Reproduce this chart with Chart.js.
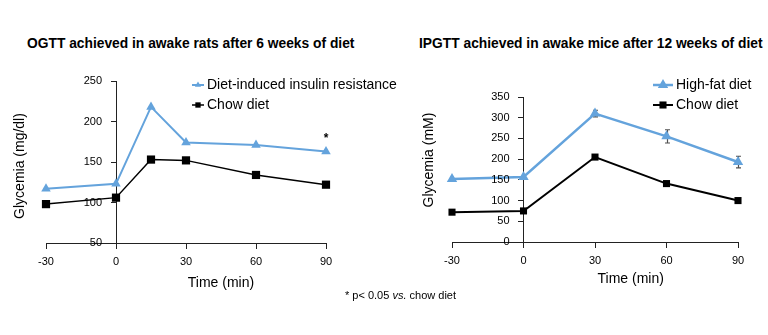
<!DOCTYPE html>
<html>
<head>
<meta charset="utf-8">
<title>Glucose tolerance tests</title>
<script src="https://cdn.jsdelivr.net/npm/chart.js@4/dist/chart.umd.min.js"></script>
<style>
  body { margin: 0; width: 768px; height: 335px; overflow: hidden; position: relative; background: #fff;
         font-family: "Liberation Sans", Arial, Helvetica, sans-serif; color: #000; }
  canvas { position: absolute; top: 0; }
  #ogtt { left: 0; }
  #ipgtt { left: 384px; }
  .ttl { position: absolute; top: 36px; font-size: 13.8px; font-weight: bold; white-space: nowrap; }
  .note { position: absolute; left: 345px; top: 289px; font-size: 11px; white-space: nowrap; }
</style>
</head>
<body>
<div class="ttl" style="left:27px">OGTT achieved in awake rats after 6 weeks of diet</div>
<div class="ttl" style="left:419px">IPGTT achieved in awake mice after 12 weeks of diet</div>
<canvas id="ogtt" width="410" height="335"></canvas>
<canvas id="ipgtt" width="384" height="335"></canvas>
<div class="note">* p&lt; 0.05 <i>vs.</i> chow diet</div>
<script>
'use strict'

// OGTT, rats (mg/dl)
const ogttTimes = [-30, 0, 15, 30, 60, 90]
const ogttResistant = [117, 123, 218, 174, 171, 163]
const ogttChow = [98, 106, 153, 152, 134, 122]
const ogttTicks = [50, 250, 50]     // min, max, step

// IPGTT, mice (mM)
const ipgttTimes = [-30, 0, 30, 60, 90]
const ipgttHighFat = [152, 157, 310, 255, 193]
const ipgttHighFatErr = [0, 0, 8, 16, 14]
const ipgttChow = [72, 75, 205, 141, 100]
const ipgttTicks = [0, 350, 50]

const timeTicks = [-30, 90, 30]

const BLUE = '#64a3dc'
const FONT = '"Liberation Sans", Arial, Helvetica, sans-serif'

const pts = (xs, ys) => xs.map((x, i) => ({x: x, y: ys[i]}))

// axis titles, y labels, legend, error bars and star, placed with the chart's own scales
const extras = {
  id: 'extras',
  beforeDatasetsDraw(chart, args, opts) {
    if (!opts.errors) return
    const {ctx} = chart
    const xs = chart.scales.x, ys = chart.scales.y
    const data = chart.data.datasets[opts.errors.dataset].data
    ctx.save()
    ctx.strokeStyle = '#505050'
    ctx.lineWidth = 1.2
    opts.errors.values.forEach((e, i) => {
      if (!e) return
      const x = Math.round(xs.getPixelForValue(data[i].x)) + 0.5
      const t = ys.getPixelForValue(data[i].y + e)
      const b = ys.getPixelForValue(data[i].y - e)
      ctx.beginPath()
      ctx.moveTo(x, t); ctx.lineTo(x, b)
      ctx.moveTo(x - 2.5, t); ctx.lineTo(x + 2.5, t)
      ctx.moveTo(x - 2.5, b); ctx.lineTo(x + 2.5, b)
      ctx.stroke()
    })
    ctx.restore()
  },
  afterDraw(chart, args, opts) {
    const {ctx} = chart
    const xs = chart.scales.x, ys = chart.scales.y
    ctx.save()
    ctx.fillStyle = '#000'

    // y tick labels, left of the axis that crosses at t = 0
    ctx.font = '11px ' + FONT
    ctx.textAlign = 'right'
    ctx.textBaseline = 'middle'
    const ax = xs.getPixelForValue(0)
    ys.ticks.forEach(t => ctx.fillText(String(t.value), ax - 14, ys.getPixelForValue(t.value)))

    ctx.font = '14px ' + FONT
    // y title
    ctx.save()
    ctx.translate(opts.yTitleX, opts.yTitleY)
    ctx.rotate(-Math.PI / 2)
    ctx.textAlign = 'center'
    ctx.fillText(opts.yTitle, 0, 0)
    ctx.restore()

    // x title, centred over 0..90 min
    ctx.textAlign = 'center'
    const cx = (xs.getPixelForValue(0) + xs.getPixelForValue(timeTicks[1])) / 2
    ctx.fillText('Time (min)', cx, opts.xTitleY)

    // legend
    const lg = opts.legend
    ctx.textAlign = 'left'
    chart.data.datasets.forEach((ds, i) => {
      const y = lg.y + i * lg.gap
      ctx.strokeStyle = ds.borderColor
      ctx.lineWidth = ds.borderWidth
      ctx.beginPath()
      ctx.moveTo(lg.x, y); ctx.lineTo(lg.x + lg.len, y)
      ctx.stroke()
      ctx.fillStyle = ds.pointBackgroundColor
      ctx.strokeStyle = ds.pointBorderColor
      Chart.helpers.drawPoint(ctx, {pointStyle: ds.pointStyle, radius: ds.pointRadius * lg.scale, rotation: 0, borderWidth: 0},
        lg.x + lg.len / 2, y)
      ctx.fillStyle = '#000'
      ctx.fillText(ds.label, lg.x + lg.len + 3, y)
    })

    // significance mark
    if (opts.star) {
      const d = chart.data.datasets[opts.star.dataset].data[opts.star.index]
      ctx.font = 'bold 12px ' + FONT
      ctx.textAlign = 'center'
      ctx.fillText('*', xs.getPixelForValue(d.x), ys.getPixelForValue(d.y) - 13)
    }
    ctx.restore()
  }
}

Chart.register(extras)

const axes = (yTicks) => ({
  x: {
    type: 'linear',
    position: {y: yTicks[0]},
    min: timeTicks[0], max: timeTicks[1],
    ticks: {stepSize: timeTicks[2], color: '#000', font: {size: 11, family: FONT}, padding: 7},
    grid: {drawOnChartArea: false, tickLength: 5, tickColor: '#222'},
    border: {color: '#222', width: 1}
  },
  y: {
    position: {x: 0},
    min: yTicks[0], max: yTicks[1],
    ticks: {stepSize: yTicks[2], display: false},
    grid: {drawOnChartArea: false, tickLength: 5, tickColor: '#222'},
    border: {color: '#222', width: 1}
  }
})

const series = (label, data, color, style, radius, width) => ({
  label: label,
  data: data,
  borderColor: color,
  borderWidth: width,
  pointStyle: style,
  pointRadius: radius,
  pointBackgroundColor: color,
  pointBorderColor: color,
  pointBorderWidth: 0,
  tension: 0,
  clip: false
})

new Chart(document.getElementById('ogtt'), {
  type: 'line',
  data: {
    datasets: [
      series('Diet-induced insulin resistance', pts(ogttTimes, ogttResistant), BLUE, 'triangle', 5.5, 2),
      series('Chow diet', pts(ogttTimes, ogttChow), '#000', 'rect', 5.8, 1.5)
    ]
  },
  options: {
    responsive: false,
    animation: false,
    layout: {padding: {left: 46, right: 84, top: 81, bottom: 92}},
    scales: axes(ogttTicks),
    plugins: {
      legend: {display: false},
      tooltip: {enabled: false},
      extras: {
        yTitle: 'Glycemia (mg/dl)', yTitleX: 20, yTitleY: 166, xTitleY: 283,
        legend: {x: 192, y: 85, gap: 20, len: 12, scale: 0.65},
        star: {dataset: 0, index: 5}
      }
    }
  }
})

new Chart(document.getElementById('ipgtt'), {
  type: 'line',
  data: {
    datasets: [
      series('High-fat diet', pts(ipgttTimes, ipgttHighFat), BLUE, 'triangle', 6, 2.5),
      series('Chow diet', pts(ipgttTimes, ipgttChow), '#000', 'rect', 5, 2)
    ]
  },
  options: {
    responsive: false,
    animation: false,
    layout: {padding: {left: 68, right: 30, top: 97, bottom: 93}},
    scales: axes(ipgttTicks),
    plugins: {
      legend: {display: false},
      tooltip: {enabled: false},
      extras: {
        yTitle: 'Glycemia (mM)', yTitleX: 45, yTitleY: 160, xTitleY: 279,
        legend: {x: 269, y: 85, gap: 20, len: 20, scale: 1},
        errors: {dataset: 0, values: ipgttHighFatErr}
      }
    }
  }
})
</script>
</body>
</html>
